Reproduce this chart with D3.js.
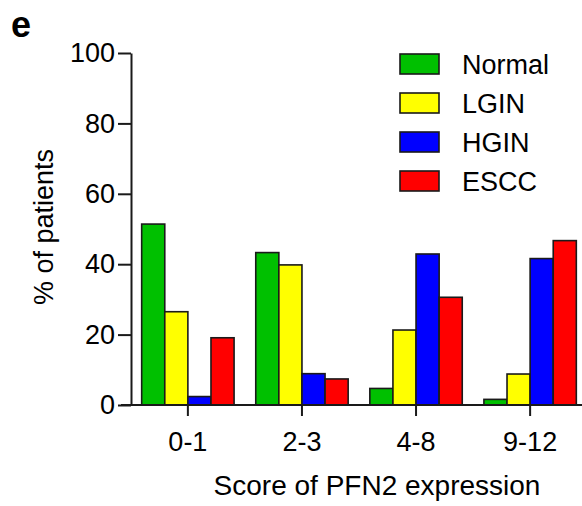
<!DOCTYPE html>
<html>
<head>
<meta charset="utf-8">
<script src="https://cdn.jsdelivr.net/npm/d3@7"></script>
<style>
  body { margin: 0; background: #fff; }
  svg { display: block; font-family: "Liberation Sans", Arial, sans-serif; }
</style>
</head>
<body>
<div id="canvas"></div>
<script>
"use strict"

// data
let scores = ["0-1", "2-3", "4-8", "9-12"];
let groups = ["Normal", "LGIN", "HGIN", "ESCC"];
let normalVals = [51.4, 43.3, 4.7, 1.6];
let lginVals = [26.5, 39.8, 21.3, 8.8];
let hginVals = [2.4, 8.9, 42.9, 41.6];
let esccVals = [19.1, 7.4, 30.6, 46.7];
let yTicks = [0, 20, 40, 60, 80, 100];
let colors = ["#00c000", "#ffff00", "#0000ff", "#ff0000"];

let seriesVals = [normalVals, lginVals, hginVals, esccVals];

let drawing = d3.select("#canvas")
    .append("svg")
    .attr("width", 582)
    .attr("height", 506);

// scales
let x = d3.scaleBand()
    .domain(scores)
    .range([120, 598])
    .paddingInner(0.19)
    .paddingOuter(0.19);

let xInner = d3.scaleBand()
    .domain(groups)
    .range([0, x.bandwidth()]);

let y = d3.scaleLinear()
    .domain([0, 100])
    .range([405, 53]);

// bars
groups.forEach(function (g, gi) {
    drawing.append("g")
        .selectAll("rect")
        .data(seriesVals[gi])
        .enter()
        .append("rect")
        .attr("x", (d, i) => x(scores[i]) + xInner(g))
        .attr("y", d => y(d))
        .attr("width", xInner.bandwidth())
        .attr("height", d => y(0) - y(d))
        .attr("fill", colors[gi])
        .attr("stroke", "#1a1a1a")
        .attr("stroke-width", 1.6);
});

// y axis
let yAxis = drawing.append("g")
    .attr("transform", "translate(131,0)")
    .call(d3.axisLeft(y).tickValues(yTicks).tickSize(13).tickSizeOuter(0).tickPadding(3));
yAxis.select(".domain").attr("stroke", "#1a1a1a").attr("stroke-width", 2);
yAxis.selectAll(".tick line").attr("stroke", "#1a1a1a").attr("stroke-width", 2);
yAxis.selectAll(".tick text")
    .attr("font-size", 27)
    .attr("fill", "#000")
    .attr("font-family", "Liberation Sans, Arial, sans-serif");

// x axis
let xAxis = drawing.append("g")
    .attr("transform", "translate(0,405)")
    .call(d3.axisBottom(x).tickSize(11).tickSizeOuter(0).tickPadding(16));
xAxis.select(".domain").remove();
xAxis.append("line")
    .attr("x1", 121)
    .attr("x2", 582)
    .attr("stroke", "#1a1a1a")
    .attr("stroke-width", 2);
xAxis.selectAll(".tick line").attr("stroke", "#1a1a1a").attr("stroke-width", 2);
xAxis.selectAll(".tick text")
    .attr("font-size", 27)
    .attr("fill", "#000")
    .attr("font-family", "Liberation Sans, Arial, sans-serif");

// axis titles
drawing.append("text")
    .attr("x", 377)
    .attr("y", 495)
    .attr("text-anchor", "middle")
    .attr("font-size", 28)
    .text("Score of PFN2 expression");

drawing.append("text")
    .attr("transform", "translate(53,227) rotate(-90)")
    .attr("text-anchor", "middle")
    .attr("font-size", 27)
    .text("% of patients");

// panel letter
drawing.append("text")
    .attr("x", 11)
    .attr("y", 37)
    .attr("font-size", 36)
    .attr("font-weight", "bold")
    .text("e");

// legend
let legend = drawing.append("g")
    .selectAll("g")
    .data(groups)
    .enter()
    .append("g")
    .attr("transform", (d, i) => "translate(400," + (54 + i * 39) + ")");

legend.append("rect")
    .attr("width", 39)
    .attr("height", 20)
    .attr("fill", (d, i) => colors[i])
    .attr("stroke", "#1a1a1a")
    .attr("stroke-width", 1.6);

legend.append("text")
    .attr("x", 62)
    .attr("y", 20)
    .attr("font-size", 27)
    .text(d => d);
</script>
</body>
</html>
